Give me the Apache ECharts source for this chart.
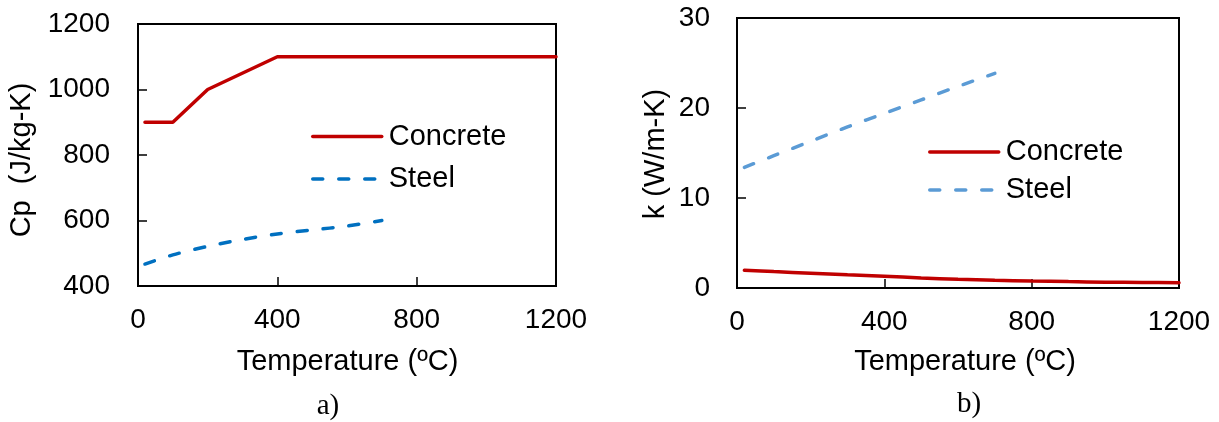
<!DOCTYPE html>
<html>
<head>
<meta charset="utf-8">
<script src="https://cdn.jsdelivr.net/npm/echarts@6/dist/echarts.min.js"></script>
<style>
html,body{margin:0;padding:0;background:#fff;}
#chart{width:1219px;height:422px;}
</style>
</head>
<body>
<div id="chart"></div>
<script>
// ---- Data ----
const seriesNames = ['Concrete', 'Steel'];
const xTicks = [0, 400, 800, 1200];

// a) Specific heat Cp (J/kg-K)
const cpConcreteTemp = [20, 100, 200, 400, 1200];
const cpConcrete = [900, 900, 1000, 1100, 1100];
const cpSteelTemp = [20, 100, 200, 300, 400, 500, 600, 700];
const cpSteel = [467, 495, 521, 542, 559, 571, 583, 600];

// b) Thermal conductivity k (W/m-K)
const kConcreteTemp = [20, 100, 200, 300, 400, 500, 600, 700, 800, 900, 1000, 1100, 1200];
const kConcrete = [1.97, 1.82, 1.65, 1.47, 1.30, 1.12, 0.96, 0.86, 0.78, 0.71, 0.65, 0.61, 0.59];
const kSteelTemp = [20, 100, 200, 300, 400, 500, 600, 700];
const kSteel = [13.4, 14.7, 16.3, 17.9, 19.4, 20.9, 22.4, 23.85];

const pair = (xs, ys) => xs.map((x, i) => [x, ys[i]]);

const FONT = '"Liberation Sans", Arial, sans-serif';
const SERIF = '"Liberation Serif", "Times New Roman", serif';
const FS = 28;
const FS_T = 29;
const RED = '#C00000';
const BLUE_A = '#0070C0';
const BLUE_B = '#5B9BD5';
const DASH = [10, 16];

const chart = echarts.init(document.getElementById('chart'), null, {renderer: 'canvas'});

function xAxisCfg(gridIndex) {
  return {
    type: 'value', gridIndex, min: 0, max: 1200, interval: 400,
    axisLine: {onZero: false, lineStyle: {color: '#000', width: 2}},
    axisTick: {inside: true, length: 9, lineStyle: {color: '#000', width: 1.5}},
    axisLabel: {fontSize: FS, fontFamily: FONT, color: '#000', margin: 20,
      formatter: v => xTicks.includes(v) ? String(v) : ''},
    splitLine: {show: false}
  };
}
function yAxisCfg(gridIndex, min, max, interval, margin) {
  return {
    type: 'value', gridIndex, min, max, interval,
    axisLine: {show: true, onZero: false, lineStyle: {color: '#000', width: 2}},
    axisTick: {show: true, inside: true, length: 9, lineStyle: {color: '#000', width: 1.5}},
    axisLabel: {fontSize: FS, fontFamily: FONT, color: '#000', margin, formatter: v => String(v)},
    splitLine: {show: false}
  };
}

const hiddenSymbol = {opacity: 0, color: 'rgba(0,0,0,0)', borderWidth: 0};

const option = {
  backgroundColor: '#fff',
  animation: false,
  grid: [
    {left: 138, top: 24, width: 418, height: 262, show: true, borderColor: '#000', borderWidth: 2, backgroundColor: 'transparent'},
    {left: 737, top: 18, width: 442, height: 270, show: true, borderColor: '#000', borderWidth: 2, backgroundColor: 'transparent'}
  ],
  xAxis: [xAxisCfg(0), xAxisCfg(1)],
  yAxis: [yAxisCfg(0, 400, 1200, 200, 28), yAxisCfg(1, 0, 30, 10, 27)],
  legend: [
    {
      left: 311, top: 122, orient: 'vertical', padding: 0,
      itemWidth: 69, itemHeight: 14, itemGap: 13.5, selectedMode: false,
      itemStyle: hiddenSymbol,
      textStyle: {fontSize: FS_T, fontFamily: FONT, color: '#000', padding: [0, 0, 0, 2]},
      data: [
        {name: seriesNames[0], itemStyle: hiddenSymbol, lineStyle: {color: RED, width: 3.5, type: 'solid', cap: 'round'}},
        {name: seriesNames[1], itemStyle: hiddenSymbol, lineStyle: {color: BLUE_A, width: 3.5, type: DASH, cap: 'round'}}
      ]
    },
    {
      left: 928, top: 137.5, orient: 'vertical', padding: 0,
      itemWidth: 69, itemHeight: 14, itemGap: 9, selectedMode: false,
      itemStyle: hiddenSymbol,
      textStyle: {fontSize: FS_T, fontFamily: FONT, color: '#000', padding: [0, 0, 0, 2]},
      data: [
        {name: seriesNames[0], itemStyle: hiddenSymbol, lineStyle: {color: RED, width: 3.5, type: 'solid', cap: 'round'}},
        {name: seriesNames[1], itemStyle: hiddenSymbol, lineStyle: {color: BLUE_B, width: 3.5, type: DASH, cap: 'round'}}
      ]
    }
  ],
  series: [
    {name: seriesNames[0], type: 'line', xAxisIndex: 0, yAxisIndex: 0, symbol: 'none',
      data: pair(cpConcreteTemp, cpConcrete),
      lineStyle: {color: RED, width: 3.5, cap: 'round', join: 'round'}, itemStyle: {color: RED}},
    {name: seriesNames[1], type: 'line', xAxisIndex: 0, yAxisIndex: 0, symbol: 'none', smooth: 0.3,
      data: pair(cpSteelTemp, cpSteel),
      lineStyle: {color: BLUE_A, width: 3.5, type: DASH, cap: 'round'}, itemStyle: {color: BLUE_A}},
    {name: seriesNames[0], type: 'line', xAxisIndex: 1, yAxisIndex: 1, symbol: 'none', smooth: 0.3,
      data: pair(kConcreteTemp, kConcrete),
      lineStyle: {color: RED, width: 3.5, cap: 'round'}, itemStyle: {color: RED}},
    {name: seriesNames[1], type: 'line', xAxisIndex: 1, yAxisIndex: 1, symbol: 'none', smooth: 0.3,
      data: pair(kSteelTemp, kSteel),
      lineStyle: {color: BLUE_B, width: 3.5, type: DASH, cap: 'round'}, itemStyle: {color: BLUE_B}}
  ],
  graphic: [
    {type: 'text', x: 347.5, y: 362,
      style: {text: 'Temperature (ºC)', font: `${FS_T}px ${FONT}`, fill: '#000', textAlign: 'center', textVerticalAlign: 'middle'}},
    {type: 'text', x: 965, y: 362,
      style: {text: 'Temperature (ºC)', font: `${FS_T}px ${FONT}`, fill: '#000', textAlign: 'center', textVerticalAlign: 'middle'}},
    {type: 'text', x: 22, y: 160, rotation: Math.PI / 2,
      style: {text: 'Cp  (J/kg-K)', font: `${FS_T}px ${FONT}`, fill: '#000', textAlign: 'center', textVerticalAlign: 'middle'}},
    {type: 'text', x: 656, y: 154, rotation: Math.PI / 2,
      style: {text: 'k (W/m-K)', font: `${FS_T}px ${FONT}`, fill: '#000', textAlign: 'center', textVerticalAlign: 'middle'}},
    {type: 'text', x: 328, y: 406,
      style: {text: 'a)', font: `29px ${SERIF}`, fill: '#000', textAlign: 'center', textVerticalAlign: 'middle'}},
    {type: 'text', x: 969, y: 404,
      style: {text: 'b)', font: `29px ${SERIF}`, fill: '#000', textAlign: 'center', textVerticalAlign: 'middle'}}
  ]
};
chart.setOption(option);
</script>
</body>
</html>
